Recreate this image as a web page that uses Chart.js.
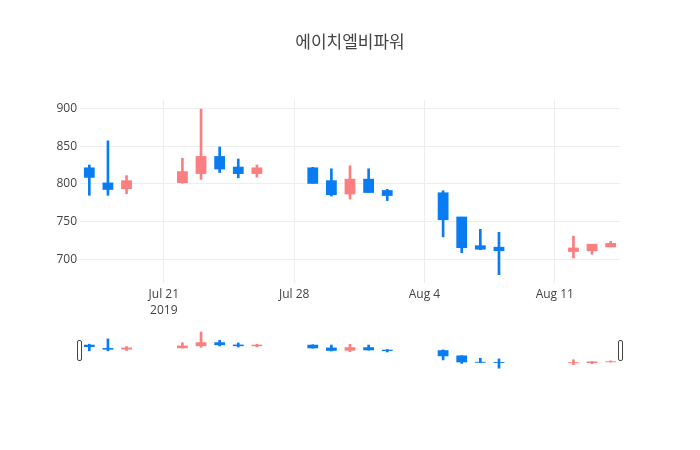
<!DOCTYPE html>
<html>
<head>
<meta charset="utf-8">
<script src="https://cdn.jsdelivr.net/npm/chart.js@4/dist/chart.umd.min.js"></script>
<style>
  body { margin: 0; background: #fff; }
  #wrap { position: relative; width: 700px; height: 450px; }
  #main { position: absolute; left: 0; top: 0; }
  #slider { position: absolute; left: 0; top: 330px; }
</style>
</head>
<body>
<div id="wrap">
  <canvas id="main" width="700" height="320"></canvas>
  <canvas id="slider" width="700" height="40"></canvas>
</div>
<script>
//----------------- data -------------------------
const title = "에이치엘비파워";
const dates = ["2019-07-17", "2019-07-18", "2019-07-19", "2019-07-22", "2019-07-23", "2019-07-24",
  "2019-07-25", "2019-07-26", "2019-07-29", "2019-07-30", "2019-07-31", "2019-08-01", "2019-08-02",
  "2019-08-05", "2019-08-06", "2019-08-07", "2019-08-08", "2019-08-12", "2019-08-13", "2019-08-14"];
const opens  = [821, 801, 794, 802, 814, 836, 822, 814, 821, 804, 787, 806, 791, 788, 756, 718, 716, 711, 712, 717];
const highs  = [825, 857, 811, 834, 899, 849, 833, 825, 822, 820, 824, 820, 793, 791, 756, 740, 736, 731, 720, 724];
const lows   = [785, 785, 787, 801, 806, 815, 808, 809, 801, 784, 780, 789, 778, 730, 709, 713, 680, 702, 707, 717];
const closes = [809, 793, 804, 816, 836, 820, 814, 821, 801, 786, 806, 789, 785, 753, 716, 714, 712, 715, 720, 721];

const xTickDates = ["2019-07-21", "2019-07-28", "2019-08-04", "2019-08-11"];
const xTickLabels = [["Jul 21", "2019"], "Jul 28", "Aug 4", "Aug 11"];
const yTicks = [700, 750, 800, 850, 900];

const upColor = "#fb7f80";
const downColor = "#0a7cf2";

//----------------- helpers -------------------------
function dayNum(s) {
  const p = s.split("-").map(Number);
  return Date.UTC(p[0], p[1] - 1, p[2]) / 864e5;
}
const days = dates.map(dayNum);
const tickDays = xTickDates.map(dayNum);
const colors = opens.map((o, i) => closes[i] >= o ? upColor : downColor);
const xMin = days[0] - 0.5;
const xMax = days[days.length - 1] + 0.5;
const yMin = 669, yMax = 911;

// wick = thin floating bar low..high, body = wide floating bar open..close
function candleSets() {
  return [
    {
      label: "wick",
      data: days.map((d, i) => ({ x: d, y: [lows[i], highs[i]] })),
      backgroundColor: colors,
      barThickness: 2,
      grouped: false
    },
    {
      label: "body",
      data: days.map((d, i) => ({ x: d, y: [Math.min(opens[i], closes[i]) - 0.8, Math.max(opens[i], closes[i]) + 0.8] })),
      backgroundColor: colors,
      barPercentage: 0.58,
      categoryPercentage: 1,
      grouped: false
    }
  ];
}

const fontFam = "'Open Sans', 'Noto Sans CJK KR', sans-serif";

//----------------- main chart -------------------------
new Chart(document.getElementById("main"), {
  type: "bar",
  data: { datasets: candleSets() },
  options: {
    responsive: false,
    animation: false,
    layout: { padding: 0 },
    plugins: {
      legend: { display: false },
      tooltip: { enabled: false },
      title: {
        display: true,
        text: title,
        color: "#444",
        font: { family: fontFam, size: 17, weight: "normal" },
        padding: { top: 33, bottom: 46.6 }
      }
    },
    scales: {
      x: {
        type: "linear",
        min: xMin,
        max: xMax,
        offset: false,
        afterBuildTicks: (s) => { s.ticks = tickDays.map(v => ({ value: v })); },
        afterFit: (s) => { s.height = 37; },
        grid: { color: "#eee", drawTicks: false, offset: false },
        border: { display: false },
        ticks: {
          autoSkip: false,
          maxRotation: 0,
          padding: 3,
          color: "#444",
          font: { family: fontFam, size: 12, lineHeight: 1.35 },
          callback: (v) => {
            const i = tickDays.indexOf(v);
            return i >= 0 ? xTickLabels[i] : "";
          }
        }
      },
      y: {
        min: yMin,
        max: yMax,
        afterBuildTicks: (s) => { s.ticks = yTicks.map(v => ({ value: v })); },
        afterFit: (s) => { s.width = 80; },
        grid: { color: "#eee", drawTicks: false },
        border: { display: false },
        ticks: {
          padding: 3,
          color: "#444",
          font: { family: fontFam, size: 12 }
        }
      },
      // blank right axis = right margin, keeps the title centred on the page
      yRight: {
        position: "right",
        min: yMin,
        max: yMax,
        afterFit: (s) => { s.width = 80; },
        grid: { display: false },
        border: { display: false },
        ticks: { display: false }
      }
    }
  }
});

//----------------- range slider -------------------------
const handles = {
  id: "handles",
  afterDraw(chart) {
    const c = chart.ctx, a = chart.chartArea;
    c.save();
    c.fillStyle = "#fff";
    c.strokeStyle = "#444";
    c.lineWidth = 1;
    [a.left - 2.5, a.right - 1.5].forEach(x => {
      c.beginPath();
      c.roundRect(x, 10.5, 4, 20, 1.5);
      c.fill();
      c.stroke();
    });
    c.restore();
  }
};

new Chart(document.getElementById("slider"), {
  type: "bar",
  data: { datasets: candleSets() },
  options: {
    responsive: false,
    animation: false,
    layout: { padding: { left: 80, right: 80, top: 0, bottom: 0 } },
    plugins: { legend: { display: false }, tooltip: { enabled: false } },
    scales: {
      x: { type: "linear", display: false, min: xMin, max: xMax, offset: false },
      y: { display: false, min: yMin, max: yMax }
    }
  },
  plugins: [handles]
});
</script>
</body>
</html>
